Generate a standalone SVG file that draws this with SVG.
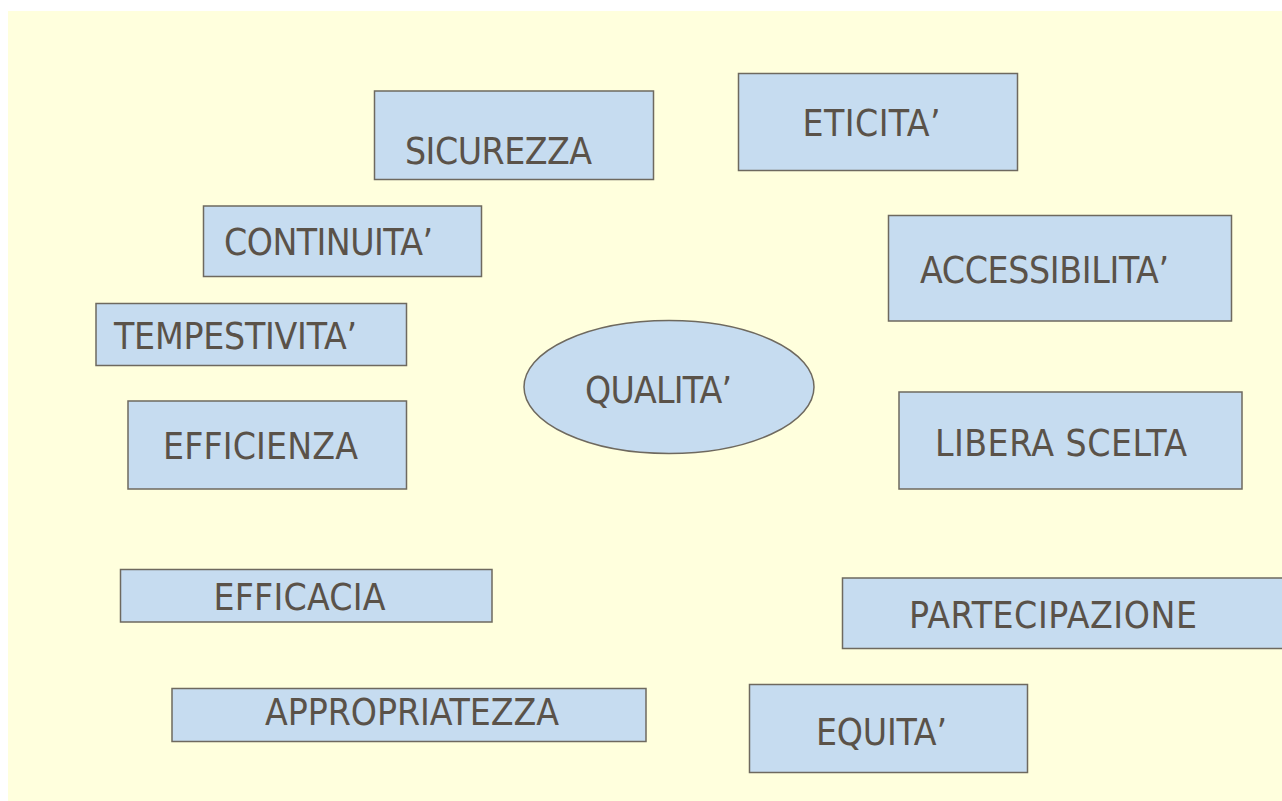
<svg xmlns="http://www.w3.org/2000/svg" width="1282" height="801" viewBox="0 0 1282 801">
<style>
.bg{fill:#FFFFDD}
.box{fill:#C6DCF0;stroke:#6E695F;stroke-width:1.5}
.lbl{font-family:"DejaVu Sans Condensed","DejaVu Sans",sans-serif;font-stretch:condensed;font-size:37px;fill:#5A5249}
</style>
<rect x="0" y="0" width="1282" height="801" fill="#FFFFFF"/>
<rect class="bg" x="8" y="11" width="1274" height="790"/>
<g id="connectors"/>
<g id="sicurezza"><rect class="box" x="374.5" y="91" width="279" height="88.5"/><text class="lbl" x="405" y="163.5" textLength="187" lengthAdjust="spacing">SICUREZZA</text></g>
<g id="eticita"><rect class="box" x="738.5" y="73.5" width="279" height="97"/><text class="lbl" x="802.5" y="136" textLength="138" lengthAdjust="spacing">ETICITA’</text></g>
<g id="continuita"><rect class="box" x="203.5" y="206" width="278" height="70.5"/><text class="lbl" x="224" y="255" textLength="209" lengthAdjust="spacing">CONTINUITA’</text></g>
<g id="accessibilita"><rect class="box" x="888.5" y="215.5" width="343" height="105.5"/><text class="lbl" x="920" y="282.5" textLength="249" lengthAdjust="spacing">ACCESSIBILITA’</text></g>
<g id="tempestivita"><rect class="box" x="96" y="303.5" width="310.5" height="62"/><text class="lbl" x="114" y="349" textLength="243" lengthAdjust="spacing">TEMPESTIVITA’</text></g>
<g id="qualita"><ellipse class="box" cx="669" cy="387" rx="145" ry="66.5"/><text class="lbl" x="585" y="402.5" textLength="147" lengthAdjust="spacing">QUALITA’</text></g>
<g id="efficienza"><rect class="box" x="128" y="401" width="278.5" height="88"/><text class="lbl" x="163" y="459" textLength="195" lengthAdjust="spacing">EFFICIENZA</text></g>
<g id="libera-scelta"><rect class="box" x="899" y="392" width="343" height="97"/><text class="lbl" x="935" y="455.5" textLength="252" lengthAdjust="spacing">LIBERA SCELTA</text></g>
<g id="efficacia"><rect class="box" x="120.5" y="569.5" width="371.5" height="52.5"/><text class="lbl" x="213.5" y="609.5" textLength="172" lengthAdjust="spacing">EFFICACIA</text></g>
<g id="partecipazione"><rect class="box" x="842.5" y="578" width="445" height="70.5"/><text class="lbl" x="909" y="628" textLength="288" lengthAdjust="spacing">PARTECIPAZIONE</text></g>
<g id="appropriatezza"><rect class="box" x="172" y="688.5" width="474" height="53"/><text class="lbl" x="265" y="725" textLength="294" lengthAdjust="spacing">APPROPRIATEZZA</text></g>
<g id="equita"><rect class="box" x="749.5" y="684.5" width="278" height="88"/><text class="lbl" x="816" y="745" textLength="131" lengthAdjust="spacing">EQUITA’</text></g>
</svg>
